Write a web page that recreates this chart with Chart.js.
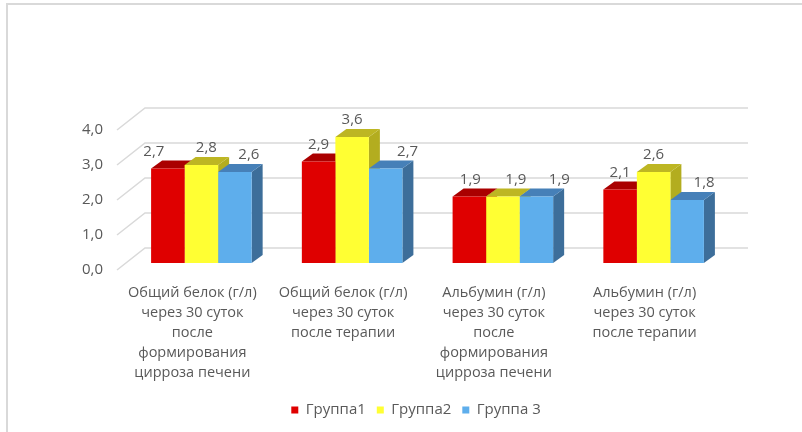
<!DOCTYPE html>
<html>
<head>
<meta charset="utf-8">
<script src="https://cdn.jsdelivr.net/npm/chart.js@4.4.1/dist/chart.umd.min.js"></script>
<style>
  html, body { margin: 0; padding: 0; background: #fff; }
  #wrap { position: relative; width: 802px; height: 432px; overflow: hidden; }
  #wrap canvas { position: absolute; left: 0; top: 0; }
  #frame { position: absolute; left: 6px; top: 3px; right: -6px; bottom: -6px;
           border: 2px solid #d9d9d9; pointer-events: none; }
</style>
</head>
<body>
<div id="wrap">
  <canvas id="proteinChart" width="802" height="432"></canvas>
  <div id="frame"></div>
</div>
<script>
// Categories (multi-line axis labels)
const categories = [
  ["Общий белок (г/л)", "через 30 суток", "после", "формирования", "цирроза печени"],
  ["Общий белок (г/л)", "через 30 суток", "после терапии"],
  ["Альбумин (г/л)", "через 30 суток", "после", "формирования", "цирроза печени"],
  ["Альбумин (г/л)", "через 30 суток", "после терапии"]
];
const seriesNames = ["Группа1", "Группа2", "Группа 3"];
const group1 = [2.7, 2.9, 1.9, 2.1];
const group2 = [2.8, 3.6, 1.9, 2.6];
const group3 = [2.6, 2.7, 1.9, 1.8];
const yMin = 0, yMax = 4, yStep = 1;

// Face colours per series: front, top, side
const palette = [
  { front: "#df0000", top: "#aa0000", side: "#a00000" },
  { front: "#ffff33", top: "#bdb623", side: "#b3ad1f" },
  { front: "#5eaeec", top: "#4680b8", side: "#3d6e9a" }
];

// 3D offsets (px) relative to the bar front plane
const BAR_DX = 11, BAR_DY = 8;
const WALL_FRONT = { dx: -9, dy: 7 };
const WALL_BACK = { dx: 19, dy: -15 };
// small horizontal nudges for the value labels, [series][category]
const labelShift = [
  [-14, 0, 1, 0],
  [5, 0, 13, 0],
  [14, 22, 23, 17]
];
const TEXT = "#595959";
const FONT = "'Open Sans', sans-serif";

function fmt(v) {
  return v.toFixed(1).replace(".", ",");
}

function poly(ctx, pts, color) {
  ctx.beginPath();
  ctx.moveTo(pts[0][0], pts[0][1]);
  for (let i = 1; i < pts.length; i++) ctx.lineTo(pts[i][0], pts[i][1]);
  ctx.closePath();
  ctx.fillStyle = color;
  ctx.fill();
}

// Walls, gridlines and the side/top faces of every bar
const boxes3d = {
  id: "boxes3d",
  beforeDatasetsDraw(chart) {
    const { ctx, chartArea: a, scales: { y } } = chart;
    ctx.save();
    ctx.strokeStyle = "#d9d9d9";
    ctx.lineWidth = 1.5;
    y.ticks.forEach(t => {
      const py = y.getPixelForValue(t.value);
      ctx.beginPath();
      ctx.moveTo(a.left + WALL_FRONT.dx, py + WALL_FRONT.dy);
      ctx.lineTo(a.left + WALL_BACK.dx, py + WALL_BACK.dy);
      ctx.lineTo(a.right + WALL_BACK.dx, py + WALL_BACK.dy);
      ctx.stroke();
    });

    const tops = [];
    chart.data.datasets.forEach((ds, i) => {
      chart.getDatasetMeta(i).data.forEach((el, j) => {
        const l = el.x - el.width / 2, r = el.x + el.width / 2;
        poly(ctx, [[r, el.y], [r + BAR_DX, el.y - BAR_DY],
                   [r + BAR_DX, el.base - BAR_DY], [r, el.base]], palette[i].side);
        tops.push({ l, r, y: el.y, v: ds.data[j], color: palette[i].top });
      });
    });
    // taller tops are nearer to the eye, so they go last
    tops.sort((p, q) => p.v - q.v);
    tops.forEach(t => {
      poly(ctx, [[t.l, t.y], [t.r, t.y], [t.r + BAR_DX, t.y - BAR_DY],
                 [t.l + BAR_DX, t.y - BAR_DY]], t.color);
    });
    ctx.restore();
  },
  afterDatasetsDraw(chart) {
    const { ctx } = chart;
    ctx.save();
    ctx.fillStyle = TEXT;
    ctx.font = "15px " + FONT;
    ctx.textAlign = "center";
    ctx.textBaseline = "middle";
    chart.data.datasets.forEach((ds, i) => {
      chart.getDatasetMeta(i).data.forEach((el, j) => {
        ctx.fillText(fmt(ds.data[j]), el.x + labelShift[i][j], el.y - 17);
      });
    });
    ctx.restore();
  }
};

const datasets = [group1, group2, group3].map((values, i) => ({
  label: seriesNames[i],
  data: values,
  backgroundColor: palette[i].front,
  borderWidth: 0,
  categoryPercentage: 0.667,
  barPercentage: 1.0
}));

new Chart(document.getElementById("proteinChart"), {
  type: "bar",
  data: { labels: categories, datasets: datasets },
  plugins: [boxes3d],
  options: {
    responsive: false,
    animation: false,
    layout: { padding: { top: 123, right: 0, bottom: 4.5, left: 30 } },
    scales: {
      x: {
        grid: { display: false, drawTicks: false },
        border: { display: false },
        ticks: {
          color: TEXT,
          font: { family: FONT, size: 14.5, lineHeight: 1.38 },
          maxRotation: 0,
          autoSkip: false,
          padding: 20,
          labelOffset: -9
        },
        afterFit(scale) { scale.height = 128.5; }
      },
      y: {
        min: yMin,
        max: yMax,
        grid: { display: false, drawTicks: false },
        border: { display: false },
        ticks: {
          stepSize: yStep,
          color: TEXT,
          font: { family: FONT, size: 15 },
          padding: 23,
          labelOffset: 7,
          callback: v => fmt(v)
        },
        afterFit(scale) { scale.width = 96; }
      },
      // empty right-hand gutter, keeps room for the back wall
      gutter: {
        position: "right",
        grid: { display: false, drawTicks: false },
        border: { display: false },
        ticks: { display: false },
        afterFit(scale) { scale.width = 73; }
      }
    },
    plugins: {
      tooltip: { enabled: false },
      legend: {
        position: "bottom",
        labels: {
          color: TEXT,
          font: { family: FONT, size: 15 },
          boxWidth: 7,
          boxHeight: 7,
          padding: 11
        }
      }
    }
  }
});
</script>
</body>
</html>
